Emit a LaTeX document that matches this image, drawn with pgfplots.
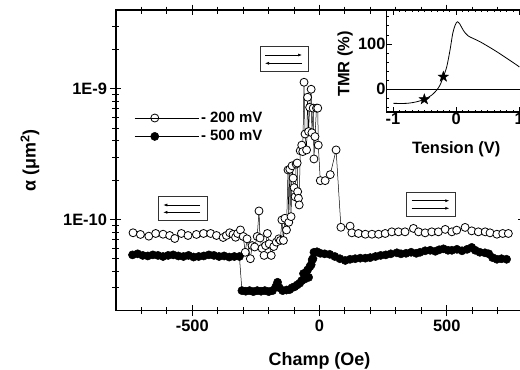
\documentclass[border=0pt]{standalone}
\usepackage{pgfplots}
\pgfplotsset{compat=1.18}
\usepackage{fontspec}
\setmainfont{Liberation Sans}
\usetikzlibrary{arrows.meta}
\pgfdeclareplotmark{fivestar}{%
  \pgfpathmoveto{\pgfpointpolar{90}{\pgfplotmarksize}}%
  \pgfpathlineto{\pgfpointpolar{126}{0.4\pgfplotmarksize}}%
  \pgfpathlineto{\pgfpointpolar{162}{\pgfplotmarksize}}%
  \pgfpathlineto{\pgfpointpolar{198}{0.4\pgfplotmarksize}}%
  \pgfpathlineto{\pgfpointpolar{234}{\pgfplotmarksize}}%
  \pgfpathlineto{\pgfpointpolar{270}{0.4\pgfplotmarksize}}%
  \pgfpathlineto{\pgfpointpolar{306}{\pgfplotmarksize}}%
  \pgfpathlineto{\pgfpointpolar{342}{0.4\pgfplotmarksize}}%
  \pgfpathlineto{\pgfpointpolar{18}{\pgfplotmarksize}}%
  \pgfpathlineto{\pgfpointpolar{54}{0.4\pgfplotmarksize}}%
  \pgfpathclose
  \pgfusepathqfillstroke}
\begin{document}
\begin{tikzpicture}[x=1bp,y=1bp]
\begin{axis}[
  at={(0bp,0bp)}, anchor=south west,
  scale only axis, width=407.1bp, height=300.7bp,
  xmin=-800, xmax=800, ymode=log, ymin=2e-11, ymax=4e-9,
  xtick={-500,0,500}, xticklabels={-500,0,500},
  minor xtick={-700,-600,-400,-300,-200,-100,100,200,300,400,600,700},
  ytick={1e-10,1e-9}, yticklabels={1E-10,1E-9},
  minor ytick={3e-11,4e-11,5e-11,6e-11,7e-11,8e-11,9e-11,2e-10,3e-10,4e-10,5e-10,6e-10,7e-10,8e-10,9e-10,2e-9,3e-9},
  tick align=center, major tick length=11bp, minor tick length=7bp,
  axis line style={line width=1.1bp},
  every tick/.style={line width=1bp, black},
  ticklabel style={font=\fontsize{16.5}{18}\selectfont\bfseries},
  xlabel={Champ (Oe)}, ylabel={α (μm\textsuperscript{2})},
  every axis x label/.style={at={(axis description cs:0.5,-0.168)}, anchor=center, font=\fontsize{18}{20}\selectfont\bfseries},
  every axis y label/.style={at={(axis description cs:-0.2113,0.5)}, anchor=center, rotate=90, font=\fontsize{18}{20}\selectfont\bfseries},
  legend style={draw=none, fill=none, at={(axis description cs:0.045,0.668)}, anchor=north west,
    font=\fontsize{15}{17}\selectfont\bfseries, row sep=2.5bp, inner sep=0pt},
  legend cell align=left,
  legend image code/.code={\draw[mark repeat=2,mark phase=2,#1] plot coordinates {(0bp,0bp) (20bp,0bp) (36bp,0bp)}; \path (0bp,0bp) -- (64bp,0bp);},
]
\addplot[black, line width=0.5bp, mark=*, mark size=4bp, mark options={fill=white, line width=0.8bp}] coordinates {
(-733,7.9e-11) (-704,7.67e-11) (-671,7.44e-11) (-644,7.8e-11) (-615,7.7e-11) (-589,7.53e-11)
(-569,7.14e-11) (-543,7.8e-11) (-517,7.53e-11) (-484,7.67e-11) (-456,7.8e-11) (-428,7.8e-11)
(-405,7.53e-11) (-379,7.27e-11) (-366,7.53e-11) (-353,7.9e-11) (-340,7.67e-11) (-330,7.3e-11)
(-322,7.8e-11) (-311,8.3e-11) (-300,7.4e-11) (-292,5.6e-11) (-285,7.1e-11) (-272,5.0e-11)
(-265,6.3e-11) (-255,6.15e-11) (-245,7.4e-11) (-238,1.16e-10) (-234,7.2e-11) (-226,6.0e-11)
(-218,5.3e-11) (-212,6.3e-11) (-205,7.8e-11) (-198,6.5e-11) (-190,5.3e-11) (-180,6.2e-11)
(-170,6.7e-11) (-160,7.1e-11) (-154,6.9e-11) (-148,9.9e-11) (-142,6.9e-11) (-136,1.02e-10)
(-130,8.3e-11) (-124,2.39e-10) (-121,9.5e-11) (-117,2.42e-10) (-112,1.05e-10) (-108,2.57e-10)
(-104,2.07e-10) (-100,1.75e-10) (-96,1.49e-10) (-92,2.65e-10) (-88,2.7e-10) (-86,1.63e-10)
(-83,1.45e-10) (-80,1.29e-10) (-76,3.35e-10) (-70,3.7e-10) (-66,3.3e-10) (-61,1.12e-9)
(-57,4.5e-10) (-51,3.4e-10) (-47,8.6e-10) (-43,4.7e-10) (-39,7.2e-10) (-33,9.9e-10)
(-30,4.6e-10) (-25,7.1e-10) (-22,2.9e-10) (-18,4.3e-10) (-12,7.1e-10) (-7,7.1e-10)
(-5,3.7e-10) (3,1.98e-10) (22,1.98e-10) (42,2.2e-10) (65,3.4e-10) (84,8.7e-11)
(120,8.88e-11) (127,7.89e-11) (153,7.8e-11) (180,7.7e-11) (206,7.7e-11) (232,7.7e-11)
(258,7.8e-11) (284,8.03e-11) (310,8.03e-11) (336,8.03e-11) (369,8.53e-11) (389,8.03e-11)
(415,7.89e-11) (441,8.03e-11) (467,8.03e-11) (494,8.38e-11) (520,8.03e-11) (539,8.27e-11)
(572,8.68e-11) (598,8.17e-11) (624,8.03e-11) (651,8.03e-11) (670,7.89e-11) (697,7.7e-11)
(720,7.8e-11) (742,7.8e-11)
};
\addlegendentry{- 200 mV}
\addplot[black, line width=0.5bp, mark=*, mark size=4.1bp] coordinates {
(-735,5.35e-11) (-715,5.45e-11) (-695,5.3e-11) (-675,5.25e-11) (-655,5.35e-11) (-635,5.3e-11)
(-615,5.2e-11) (-595,5.3e-11) (-575,5.35e-11) (-555,5.25e-11) (-535,5.2e-11) (-515,5.3e-11)
(-495,5.15e-11) (-475,5.2e-11) (-455,5.25e-11) (-435,5.35e-11) (-415,5.3e-11) (-395,5.2e-11)
(-375,5.25e-11) (-355,5.15e-11) (-335,5.2e-11) (-315,5.2e-11)
(-305,2.85e-11) (-290,2.82e-11) (-275,2.85e-11) (-260,2.8e-11) (-245,2.85e-11) (-230,2.82e-11)
(-215,2.85e-11) (-200,2.8e-11) (-185,2.85e-11) (-172,3.05e-11) (-165,3.3e-11) (-158,3.0e-11)
(-145,2.85e-11) (-130,2.88e-11) (-118,2.9e-11) (-108,3.0e-11) (-98,3.05e-11) (-88,3.15e-11)
(-78,3.25e-11) (-70,3.4e-11) (-63,3.85e-11) (-58,3.5e-11) (-52,3.7e-11) (-47,4.1e-11)
(-43,3.6e-11) (-38,4.35e-11) (-33,4.5e-11) (-29,4.9e-11) (-26,5.0e-11)
(-22,5.6e-11) (-10,5.65e-11) (3,5.5e-11) (20,5.45e-11) (40,5.4e-11) (60,5.2e-11)
(80,5.0e-11) (101,4.85e-11) (120,4.95e-11) (140,5.0e-11) (160,5.05e-11) (180,5.05e-11)
(199,5.1e-11) (220,5.2e-11) (240,5.3e-11) (260,5.35e-11) (280,5.45e-11) (304,5.55e-11)
(320,5.45e-11) (340,5.5e-11) (360,5.6e-11) (380,5.5e-11) (395,5.6e-11) (415,5.75e-11)
(435,5.8e-11) (455,5.7e-11) (470,5.85e-11) (487,5.95e-11) (505,5.8e-11) (520,5.8e-11)
(540,5.9e-11) (560,5.75e-11) (580,5.9e-11) (598,6.1e-11) (612,5.8e-11) (630,5.6e-11)
(650,5.55e-11) (665,5.45e-11) (680,5.1e-11) (697,4.95e-11) (715,5.0e-11) (735,4.95e-11)
};
\addlegendentry{- 500 mV}
\end{axis}
\begin{axis}[
  at={(270.7bp,198.7bp)}, anchor=south west,
  scale only axis, width=138.9bp, height=102bp,
  xmin=-1.1, xmax=1.1, ymin=-50, ymax=175,
  axis background/.style={fill=white},
  xtick={-1,0,1}, xticklabels={-1,0,1}, minor x tick num=9,
  ytick={0,100}, yticklabels={0,100},
  minor ytick={-40,-20,20,40,60,80,120,140,160},
  tick align=inside, major tick length=5bp, minor tick length=2.5bp,
  axis line style={line width=1.1bp},
  every tick/.style={line width=0.8bp, black},
  ticklabel style={font=\fontsize{16.5}{18}\selectfont\bfseries, inner sep=1bp},
  xlabel={Tension (V)}, ylabel={TMR (\%)},
  every axis x label/.style={at={(axis description cs:0.5,-0.363)}, anchor=center, font=\fontsize{16.5}{18}\selectfont\bfseries},
  every axis y label/.style={at={(axis description cs:-0.30,0.47)}, anchor=center, rotate=90, font=\fontsize{16.5}{18}\selectfont\bfseries},
]
\addplot[black, line width=1.3bp] coordinates {(-1.1,0) (1.1,0)};
\addplot[black, line width=0.8bp, smooth, tension=0.5] coordinates {
(-0.994,-30.9) (-0.782,-30.9) (-0.624,-27.4) (-0.504,-22.1) (-0.386,-12.6) (-0.307,-1.5)
(-0.255,9.5) (-0.203,27.8) (-0.149,49.9) (-0.097,86.7) (-0.054,123.5) (-0.017,141.2)
(0.019,149.1) (0.062,143.2) (0.114,130.0) (0.193,117.6) (0.378,105) (0.643,83) (0.96,53.6) (1.0,49)
};
\addplot[only marks, mark=fivestar, mark size=5.5bp, mark options={fill=black, draw=black, line width=0.4bp}] coordinates {(-0.504,-22.1) (-0.203,27.8)};
\end{axis}
\draw[line width=0.8bp, black!80] (144,239) rectangle (192,264);
\draw[-{Latex[length=4bp,width=3bp]}, line width=0.6bp] (149,255.7) -- (186,255.7);
\draw[-{Latex[length=4bp,width=3bp]}, line width=0.6bp] (186,247.4) -- (149,247.4);
\draw[line width=0.8bp, black!80] (42,90) rectangle (91,114);
\draw[-{Latex[length=4bp,width=3bp]}, line width=0.6bp] (84,105.7) -- (47.3,105.7);
\draw[-{Latex[length=4bp,width=3bp]}, line width=0.6bp] (84,98.4) -- (47.3,98.4);
\draw[line width=0.8bp, black!80] (290.7,94.7) rectangle (339.7,118);
\draw[-{Latex[length=4bp,width=3bp]}, line width=0.6bp] (295.7,110) -- (333.3,110);
\draw[-{Latex[length=4bp,width=3bp]}, line width=0.6bp] (295.7,102.4) -- (333.3,102.4);
\pgfresetboundingbox
\useasboundingbox (-116,-58.3) rectangle (404,310.7);
\end{tikzpicture}
\end{document}
